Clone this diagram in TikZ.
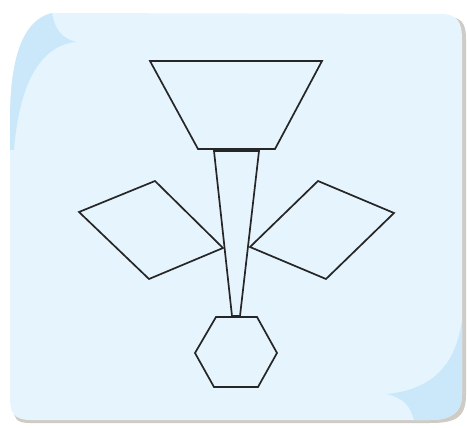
\documentclass[tikz,border=0pt]{standalone}
\usepackage{xcolor}
\usepackage{tikz}

\definecolor{sheetblue}{HTML}{E6F4FD}
\definecolor{curlblue}{HTML}{CBE8FA}
\definecolor{shadowgrey}{HTML}{CFCBC5}

\begin{document}
\begin{tikzpicture}[
  x=1pt, y=-1pt,
  outline/.style={draw=black!85, line width=1.7pt, line join=miter},
]
  \useasboundingbox (0,0) rectangle (467,428);

  % Sheet with shadow
  \fill[shadowgrey] (48,16) -- (440,16) .. controls (462,16) and (466,22) .. (466,40)
    -- (466,395) .. controls (466,418) and (455,423) .. (430,423)
    -- (30,423) .. controls (16,423) and (14,418) .. (14,410) -- cycle;
  \fill[sheetblue] (52,13) -- (440,14) .. controls (458,14) and (462,22) .. (462,40)
    -- (462,395) .. controls (462,412) and (452,420) .. (430,420)
    -- (30,420) .. controls (14,420) and (10,412) .. (10,398)
    -- (10,120) .. controls (10,60) and (22,20) .. (52,13) -- cycle;

  % Curls
  \fill[curlblue] (52,13) .. controls (55,30) and (62,38) .. (76,42)
    .. controls (45,45) and (20,75) .. (14,150)
    -- (10,150) -- (10,120) .. controls (10,60) and (22,20) .. (52,13) -- cycle;
  \fill[curlblue] (462,320) .. controls (456,365) and (432,390) .. (386,394)
    .. controls (404,398) and (410,406) .. (414,420)
    -- (430,420) .. controls (452,420) and (462,412) .. (462,395) -- cycle;

  % Funnel
  \draw[outline] (150,61) -- (322,61) -- (275,149) -- (198,149) -- cycle;
  % Stem
  \draw[outline] (214,151) -- (259,151) -- (240,316) -- (232,316) -- cycle;
  % Left blade
  \draw[outline] (79,212) -- (155,181) -- (223,248) -- (149,279) -- cycle;
  % Right blade
  \draw[outline] (250,247) -- (318,181) -- (394,213) -- (326,279) -- cycle;
  % Hexagon base
  \draw[outline] (216,317) -- (257,317) -- (277,353) -- (258,387)
    -- (214,387) -- (195,353) -- cycle;
\end{tikzpicture}
\end{document}
